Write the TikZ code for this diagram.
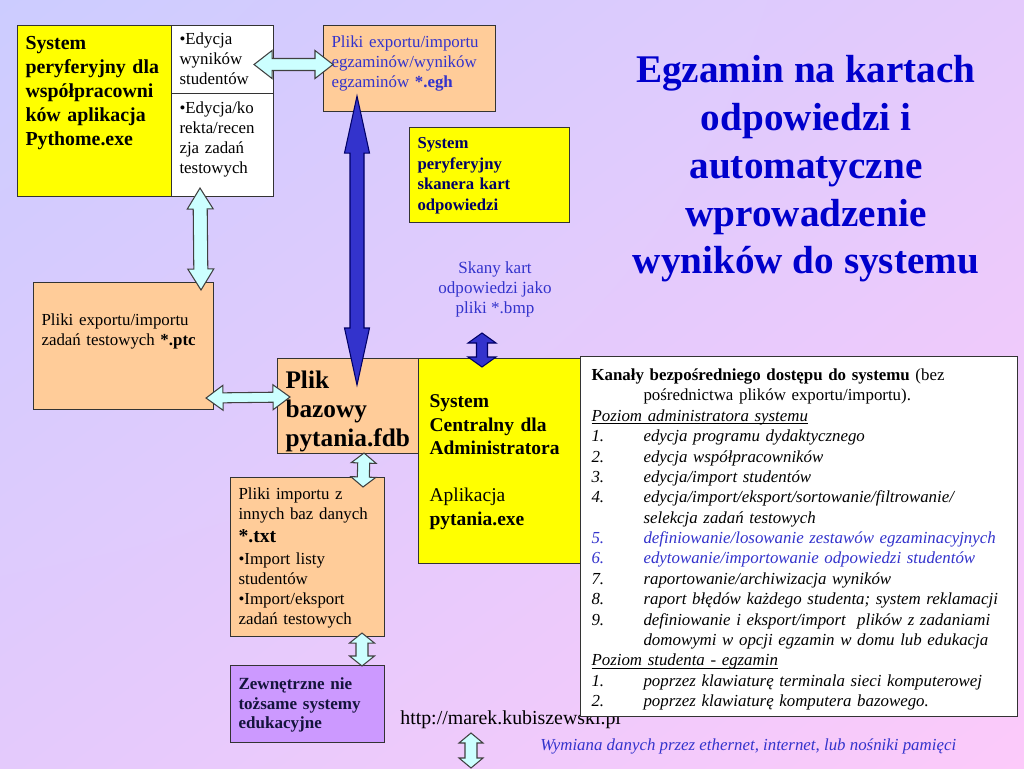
\documentclass[tikz,border=0pt]{standalone}
\usepackage{fontspec}
\setmainfont{Liberation Serif}
\usepackage{tikz}
\usetikzlibrary{calc}
\usetikzlibrary{shadings}

\definecolor{bgA}{HTML}{CCCCFF}
\definecolor{bgB}{HTML}{FCCAFA}
\definecolor{bgC}{HTML}{E4CAFC}
\definecolor{peach}{HTML}{FFCC99}
\definecolor{yel}{HTML}{FFFF00}
\definecolor{lila}{HTML}{CC99FF}
\definecolor{lightcyan}{HTML}{CCFFFF}
\definecolor{arrblue}{HTML}{3333CC}
\definecolor{txtblue}{HTML}{3333CC}
\definecolor{titleblue}{HTML}{0000CC}
\definecolor{navy}{HTML}{000066}
\definecolor{darktxt}{HTML}{14143C}

\newcommand{\fs}[2]{\fontsize{#1}{#2}\selectfont}
\newcommand{\itm}[2]{\makebox[1.04cm][l]{#1}#2}
\newcommand{\ulin}[1]{\sbox0{#1}\rlap{\rule[-1.7pt]{\wd0}{0.45pt}}\usebox0}
% fat double arrow: style, tip, tip, shaft half width, head half width, head length
\newcommand{\fatarrow}[6]{%
  \draw[#1] (#2)
    -- ($(#2)!#6!(#3)!#5!90:(#3)$) -- ($(#2)!#6!(#3)!#4!90:(#3)$)
    -- ($(#3)!#6!(#2)!#4!-90:(#2)$) -- ($(#3)!#6!(#2)!#5!-90:(#2)$)
    -- (#3)
    -- ($(#3)!#6!(#2)!#5!90:(#2)$) -- ($(#3)!#6!(#2)!#4!90:(#2)$)
    -- ($(#2)!#6!(#3)!#4!-90:(#3)$) -- ($(#2)!#6!(#3)!#5!-90:(#3)$)
    -- cycle;}

\begin{document}
\begin{tikzpicture}[x=0.02cm,y=-0.02cm,
  box/.style={draw=black!80,line width=0.6pt,anchor=north west,align=left,
    inner xsep=0.16cm,inner ysep=0pt,font=\fs{9.6}{11.4}},
  cyanarr/.style={fill=lightcyan,draw=black!75,line width=0.6pt},
  bluearr/.style={fill=arrblue,draw=navy,line width=0.6pt}]

\shade[upper left=bgA,lower right=bgB,upper right=bgC,lower left=bgC] (0,0) rectangle (1024,768);
\useasboundingbox (0,0) rectangle (1024,768);

\node[font=\fs{22.3}{27.2}\bfseries,text=titleblue,align=center] (title) at (806,169)
  {Egzamin na kartach\\odpowiedzi i\\automatyczne\\wprowadzenie\\wyników do systemu};
\node[font=\fs{9.7}{11.4},text=txtblue,align=center] (skany) at (495,289)
  {Skany kart\\odpowiedzi jako\\pliki *.bmp};
\node[anchor=base west,inner sep=0pt,font=\fs{11.3}{13}] (url) at (400,724) {http://marek.kubiszewski.pl};
\node[anchor=base west,inner sep=0pt,font=\fs{9.6}{11.4}\itshape,text=txtblue] (wym) at (540,750)
  {Wymiana danych przez ethernet, internet, lub nośniki pamięci};

\node[box,fill=yel,text width=2.76cm,text height=0.48cm,text depth=2.94cm,font=\fs{11.3}{13.6}\bfseries] (pyth) at (17,25)
  {System\\peryferyjny dla\\współpracowni\\ków aplikacja\\Pythome.exe};
\node[box,fill=white,text width=1.72cm,text height=0.38cm,text depth=0.98cm] (ed1) at (171,25)
  {•Edycja\\wyników\\studentów};
\node[box,fill=white,text width=1.72cm,text height=0.4cm,text depth=1.66cm] (ed2) at (171,93)
  {•Edycja/ko\\rekta/recen\\zja zadań\\testowych};
\node[box,fill=peach,text=txtblue,text width=3.12cm,text height=0.44cm,text depth=1.28cm] (egh) at (323,25)
  {Pliki exportu/importu\\egzaminów/wyników\\egzaminów \textbf{*.egh}};
\node[box,fill=yel,text=navy,text width=2.88cm,text height=0.42cm,text depth=1.48cm,font=\fs{9.5}{11.7}\bfseries] (skan) at (409,127)
  {System\\peryferyjny\\skanera kart\\odpowiedzi};
\node[box,fill=peach,text width=3.28cm,text height=0.86cm,text depth=1.68cm] (ptc) at (33,282)
  {Pliki exportu/importu\\zadań testowych \textbf{*.ptc}};
\node[box,fill=peach,text width=2.5cm,text height=0.6cm,text depth=1.3cm,font=\fs{14.4}{16.5}\bfseries] (fdb) at (277,358)
  {Plik\\bazowy\\pytania.fdb};
\node[box,fill=yel,inner xsep=0.22cm,text width=2.8cm,text height=0.98cm,text depth=3.12cm,font=\fs{11.1}{13.4}] (admin) at (418,358)
  {{\bfseries System\\Centralny dla\\Administratora}\\[13.4pt]Aplikacja\\\textbf{pytania.exe}};
\node[box,fill=white,inner xsep=0.22cm,text width=8.3cm,text height=0.48cm,text depth=6.72cm,font=\fs{9.6}{11.6}] (list) at (580,356)
  {\textbf{Kanały bezpośredniego dostępu do systemu} (bez\\
   \hspace*{1.04cm}pośrednictwa plików exportu/importu).\\
   \textit{\ulin{Poziom administratora systemu}}\\
   \textit{\itm{1.}{edycja programu dydaktycznego}}\\
   \textit{\itm{2.}{edycja współpracowników}}\\
   \textit{\itm{3.}{edycja/import studentów}}\\
   \textit{\itm{4.}{edycja/import/eksport/sortowanie/filtrowanie/}}\\
   \textit{\itm{}{selekcja zadań testowych}}\\
   \textcolor{txtblue}{\textit{\itm{5.}{definiowanie/losowanie zestawów egzaminacyjnych}}}\\
   \textcolor{txtblue}{\textit{\itm{6.}{edytowanie/importowanie odpowiedzi studentów}}}\\
   \textit{\itm{7.}{raportowanie/archiwizacja wyników}}\\
   \textit{\itm{8.}{raport błędów każdego studenta; system reklamacji}}\\
   \textit{\itm{9.}{definiowanie i eksport/import\ \ plików z zadaniami}}\\
   \textit{\itm{}{domowymi w opcji egzamin w domu lub edukacja}}\\
   \textit{\ulin{Poziom studenta - egzamin}}\\
   \textit{\itm{1.}{poprzez klawiaturę terminala sieci komputerowej}}\\
   \textit{\itm{2.}{poprzez klawiaturę komputera bazowego.}}};
\node[box,fill=peach,text width=2.76cm,text height=0.44cm,text depth=2.74cm] (txt) at (230,477)
  {Pliki importu z\\innych baz danych\\[1.5pt]{\fs{11.2}{13}\bfseries *.txt}\\[1.5pt]•Import listy\\studentów\\•Import/eksport\\zadań testowych};
\node[box,fill=lila,text=darktxt,text width=2.76cm,text height=0.48cm,text depth=1.06cm,font=\fs{9.7}{11.1}\bfseries] (ext) at (230,665)
  {Zewnętrzne nie\\tożsame systemy\\edukacyjne};

\coordinate (a1l) at ($(ed1.east)+(-20,5)$);
\coordinate (a1r) at ($(egh.west)+(10,-4)$);
\coordinate (a2t) at ($(ed2.south west)+(29,-9)$);
\coordinate (a2b) at ($(ptc.north east)+(-13,8)$);
\coordinate (a3l) at ($(ptc.south east)+(-8,-12)$);
\coordinate (a3r) at ($(fdb.north west)+(13,39)$);
\coordinate (a4t) at ($(egh.south west)+(34,-16)$);
\coordinate (a4b) at ($(fdb.north west)+(80,27)$);
\coordinate (a5t) at ($(admin.north west)+(64,-25)$);
\coordinate (a5b) at ($(admin.north west)+(64,9)$);
\coordinate (a6t) at ($(fdb.south east)+(-55,-1)$);
\coordinate (a6b) at ($(txt.north west)+(133,10)$);
\coordinate (a7t) at ($(txt.south west)+(132,-4)$);
\coordinate (a7b) at ($(ext.north west)+(132,1)$);
\coordinate (a8t) at ($(url.base west)+(71,9)$);
\coordinate (a8b) at ($(url.base west)+(71,44)$);

\fatarrow{cyanarr}{a1l}{a1r}{0.12cm}{0.28cm}{0.36cm}
\fatarrow{cyanarr}{a2t}{a2b}{0.14cm}{0.26cm}{0.42cm}
\fatarrow{cyanarr}{a3l}{a3r}{0.1cm}{0.25cm}{0.34cm}
\fatarrow{bluearr}{a4t}{a4b}{0.14cm}{0.25cm}{1.14cm}
\fatarrow{bluearr}{a5t}{a5b}{0.11cm}{0.28cm}{0.2cm}
\fatarrow{cyanarr}{a6t}{a6b}{0.12cm}{0.25cm}{0.2cm}
\fatarrow{cyanarr}{a7t}{a7b}{0.12cm}{0.25cm}{0.2cm}
\fatarrow{cyanarr}{a8t}{a8b}{0.12cm}{0.24cm}{0.2cm}

\end{tikzpicture}
\end{document}
